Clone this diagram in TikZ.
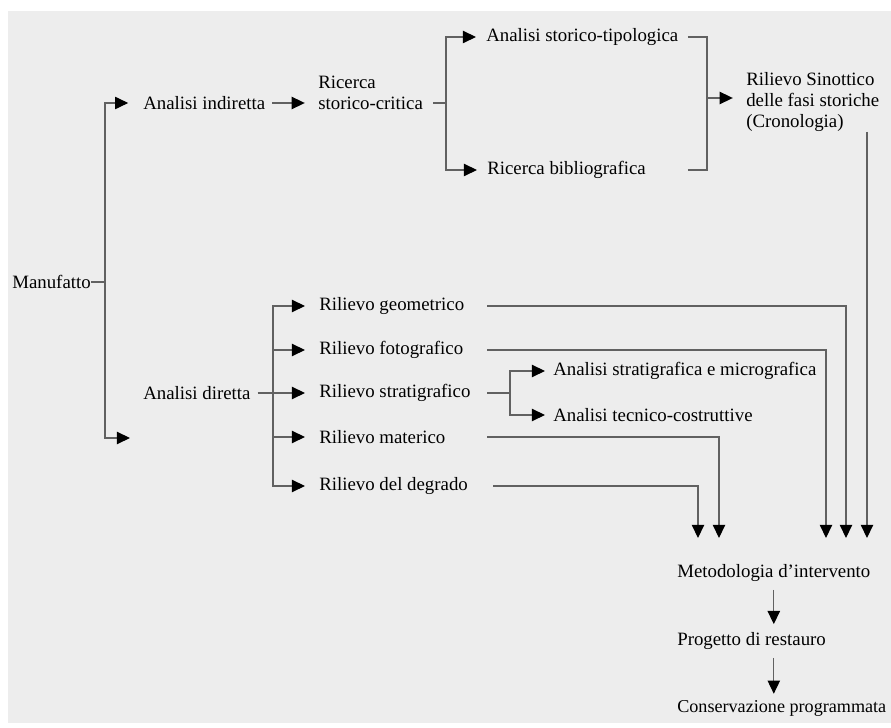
\documentclass[tikz,border=0pt]{standalone}
\usepackage{fontspec}
\setmainfont{Liberation Serif}
\usetikzlibrary{arrows.meta,calc}

\begin{document}
\begin{tikzpicture}[
  conn/.style={line width=0.8pt,draw=black!62},
  arr/.style={conn,-{Triangle[length=0.33cm,width=0.31cm,black]}},
  lbl/.style={anchor=west,inner sep=0pt,align=left,font=\fontsize{13.4}{14.9}\selectfont}]
\useasboundingbox (0,0) rectangle (22.275,18.175);
%\draw[step=0.5cm,gray,very thin] (0,0) grid (22,18); %background grid

\fill[white] (0,0) rectangle (22.275,18.175);
\fill[black!7] (0.2,0.1) rectangle (22.275,17.9);

\node[lbl] (manuf) at (0.3,11.125) {Manufatto};

\node[lbl] (aind) at (3.575,15.6) {Analisi indiretta};
\node[lbl] (ricerca) at (7.95,15.86) {Ricerca\\storico-critica};
\node[lbl] (astip) at (12.15,17.25) {Analisi storico-tipologica};
\node[lbl] (rbib) at (12.175,13.925) {Ricerca bibliografica};
\node[lbl] (rsin) at (18.65,15.625) {Rilievo Sinottico\\delle fasi storiche\\(Cronologia)};

\node[lbl] (adir) at (3.575,8.35) {Analisi diretta};
\node[lbl] (rgeo) at (7.975,10.525) {Rilievo geometrico};
\node[lbl] (rfoto) at (7.975,9.425) {Rilievo fotografico};
\node[lbl] (rstrat) at (7.975,8.35) {Rilievo stratigrafico};
\node[lbl] (rmat) at (7.975,7.25) {Rilievo materico};
\node[lbl] (rdeg) at (7.975,6.025) {Rilievo del degrado};
\node[lbl] (amicro) at (13.825,8.9) {Analisi stratigrafica e micrografica};
\node[lbl] (atec) at (13.825,7.8) {Analisi tecnico-costruttive};

\node[lbl] (metod) at (16.925,3.85) {Metodologia d'intervento};
\node[lbl] (prog) at (16.925,2.15) {Progetto di restauro};
\node[lbl,font=\fontsize{12.9}{14.9}\selectfont] (cons) at (16.925,0.475) {Conservazione programmata};

\coordinate (mfork) at (2.625,11.125);
\coordinate (dend) at (3.25,7.225);
\coordinate (rfork) at (11.15,15.6);
\coordinate (sfork) at (17.675,15.725);
\coordinate (dfork) at (6.825,8.35);
\coordinate (tfork) at (12.75,8.35);
\coordinate (rcol) at (12.175,0);

\coordinate (in1) at (17.45,4.725);
\coordinate (in2) at (17.975,4.725);
\coordinate (in3) at (20.65,4.725);
\coordinate (in4) at (21.15,4.725);
\coordinate (in5) at (21.675,4.725);

% upper branch
\draw[conn] (manuf.east) -- (mfork);
\draw[arr] (mfork) |- ($(aind.west)+(-0.37,0)$);
\draw[arr] (mfork) |- (dend);
\draw[arr] ($(aind.east)+(0.17,0)$) -- ($(aind -| ricerca.west)+(-0.33,0)$);
\draw[conn] ($(aind -| ricerca.east)+(0.25,0)$) -- (rfork);
\draw[arr] (rfork) |- ($(astip.west)+(-0.25,0)$);
\draw[arr] (rfork) |- ($(rbib.west)+(-0.25,0)$);
\draw[conn] ($(astip.east)+(0.23,0)$) -| (sfork);
\draw[conn] ($(rbib -| astip.east)+(0.23,0)$) -| (sfork);
\draw[arr] (sfork) -- ($(sfork -| rsin.west)+(-0.33,0)$);
\draw[arr] (in5 |- rsin.south) -- (in5);

% lower branch
\draw[conn] ($(adir.east)+(0.17,0)$) -- (dfork);
\foreach \n in {rgeo,rfoto,rstrat,rmat,rdeg}
  \draw[arr] (dfork) |- ($(\n.west)+(-0.35,0)$);
\draw[conn] (rcol |- rstrat) -- (tfork);
\draw[arr] (tfork) |- ($(amicro.west)+(-0.2,0)$);
\draw[arr] (tfork) |- ($(atec.west)+(-0.2,0)$);

\draw[arr] ($(rcol |- rdeg)+(0.15,0)$) -| (in1);
\draw[arr] (rcol |- rmat) -| (in2);
\draw[arr] (rcol |- rfoto) -| (in3);
\draw[arr] (rcol |- rgeo) -| (in4);

\draw[arr,shorten <=0.2cm,shorten >=0.2cm] (metod.south) -- (metod.south |- prog.north);
\draw[arr,shorten <=0.2cm,shorten >=0.15cm] (metod.south |- prog.south) -- (metod.south |- cons.north);

\end{tikzpicture}
\end{document}
